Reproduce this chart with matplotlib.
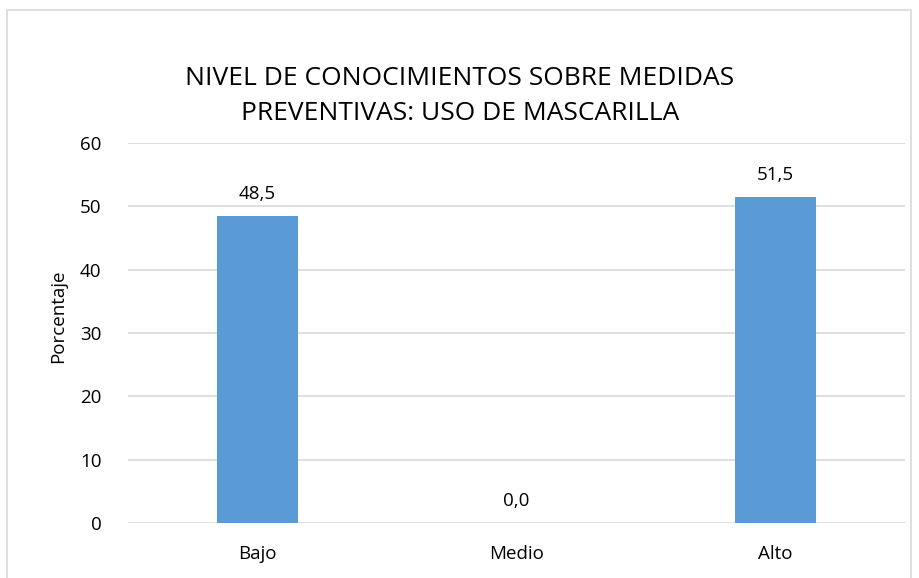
import matplotlib
matplotlib.use("Agg")
import matplotlib.pyplot as plt
from matplotlib.patches import Rectangle

categories = ["Bajo", "Medio", "Alto"]
porcentajes = [48.5, 0.0, 51.5]
y_ticks = [0, 10, 20, 30, 40, 50, 60]

plt.rcParams["font.family"] = ["Open Sans", "DejaVu Sans"]

fig = plt.figure(figsize=(9.2, 5.78), dpi=100)
ax = fig.add_axes([128 / 920, 1 - 523 / 578, 777 / 920, 380 / 578])

x = range(len(categories))
bars = ax.bar(x, porcentajes, width=0.31, color="#5B9BD5", zorder=3)
for xi, v in zip(x, porcentajes):
    ax.text(xi, v + 2.0, f"{v:.1f}".replace(".", ","), ha="center", va="bottom",
            fontsize=13.5, color="#000000")

ax.set_xlim(-0.5, 2.5)
ax.set_ylim(0, 60)
ax.set_yticks(y_ticks)
ax.set_xticks(list(x))
ax.set_xticklabels(categories)
ax.tick_params(axis="both", length=0, labelsize=13.5, colors="#000000")
ax.tick_params(axis="y", pad=19)
ax.tick_params(axis="x", pad=16)
ax.grid(axis="y", color="#D9D9D9", linewidth=1.2, zorder=0)
for s in ax.spines.values():
    s.set_visible(False)
ax.set_ylabel("Porcentaje", fontsize=13.5)
ax.yaxis.set_label_coords(-0.078, 0.545)

fig.text(0.5, 1 - 96 / 578, "NIVEL DE CONOCIMIENTOS SOBRE MEDIDAS\nPREVENTIVAS: USO DE MASCARILLA",
         ha="center", va="center", fontsize=19, linespacing=1.55)

fig.patches.append(Rectangle((7 / 920, -0.05), 904 / 920, 1.05 - 10 / 578,
                             transform=fig.transFigure, fill=False,
                             edgecolor="#D9D9D9", linewidth=1.2))

fig.savefig("out.png", dpi=100)
